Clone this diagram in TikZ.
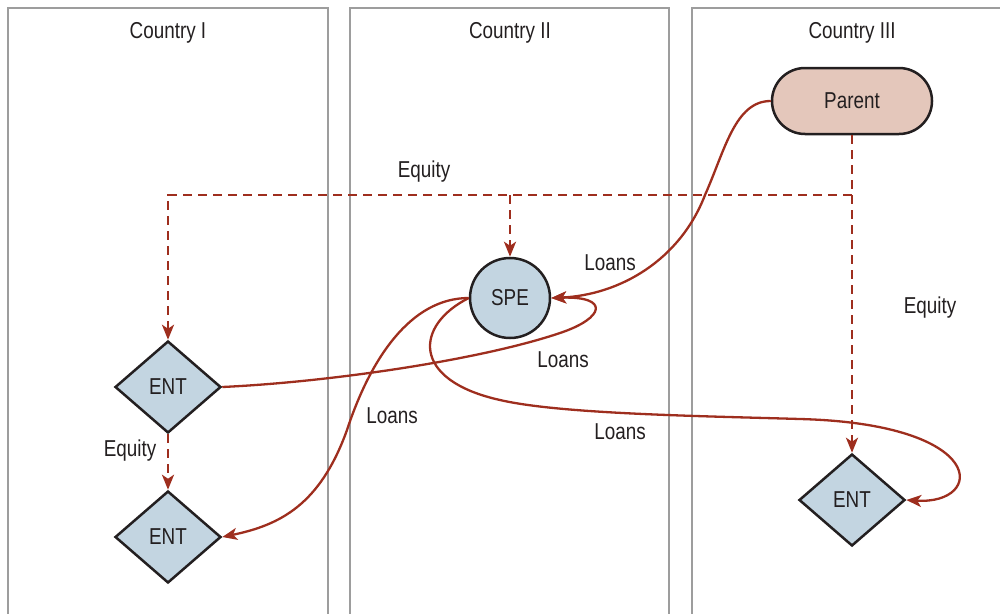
\documentclass[tikz,border=0pt]{standalone}
\usepackage{fontspec}
\setmainfont[FakeStretch=0.82]{Liberation Sans}
\usetikzlibrary{shapes.geometric,arrows.meta}
\definecolor{panelgray}{HTML}{9D9D9D}
\definecolor{inkdark}{HTML}{231F20}
\definecolor{flowred}{HTML}{9E2E1E}
\definecolor{entblue}{HTML}{C3D5E1}
\definecolor{parentpink}{HTML}{E4C7BB}
\tikzset{
  panel/.style={draw=panelgray, line width=2pt},
  lbl/.style={text=inkdark, font=\fontsize{23}{27}\selectfont, inner sep=0pt},
  entbox/.style={diamond, draw=inkdark, fill=entblue, line width=2.5pt,
    minimum width=106pt, minimum height=92pt, inner sep=0pt, aspect=1.15,
    text=inkdark, font=\fontsize{23}{27}\selectfont},
  spebox/.style={circle, draw=inkdark, fill=entblue, line width=2.5pt,
    minimum size=80pt, inner sep=0pt, text=inkdark, font=\fontsize{23}{27}\selectfont},
  parentbox/.style={rectangle, rounded corners=33pt, draw=inkdark, fill=parentpink,
    line width=2.5pt, minimum width=160pt, minimum height=66pt, inner sep=0pt,
    text=inkdark, font=\fontsize{23}{27}\selectfont},
  tipred/.style={-{Stealth[length=15pt,width=12pt,inset=4pt]}},
  equity/.style={draw=flowred, line width=2.6pt, dash pattern=on 9pt off 6pt},
  loan/.style={draw=flowred, line width=2.3pt},
}
\begin{document}
\begin{tikzpicture}[x=1pt,y=-1pt]
\useasboundingbox (0,0) rectangle (1000,613);

% country panels
\draw[panel] (8,614) -- (8,8) -- (328,8) -- (328,614);
\draw[panel] (350,614) -- (350,8) -- (669,8) -- (669,614);
\draw[panel] (692,614) -- (692,8) -- (1002,8);
\node[lbl] (t1) at (168,33) {Country I};
\node[lbl] (t2) at (510,33) {Country II};
\node[lbl] (t3) at (852,33) {Country III};

% entities
\node[parentbox] (parent) at (852,101) {Parent};
\node[spebox] (spe) at (510,298) {SPE};
\node[entbox] (ent1) at (168,387) {ENT};
\node[entbox] (ent2) at (168,537) {ENT};
\node[entbox] (ent3) at (852,500) {ENT};

% equity ownership (dashed)
\coordinate (jR) at (852,195);
\coordinate (jM) at (510,195);
\coordinate (jL) at (168,195);
\draw[equity,tipred] (parent.south) -- (jR) -- (jL) -- (ent1.north);
\draw[equity,tipred] (jM) -- (spe.north);
\draw[equity,tipred] (jR) -- (ent3.north);
\draw[equity,tipred] (ent1.south) -- (ent2.north);

% loans (solid)
\draw[loan,tipred] (parent.west) .. controls (735,101) and (725,150) .. (705,195)
  .. controls (680,260) and (620,295) .. (spe.east);
\draw[loan,tipred] (ent1.east) .. controls (330,382) and (480,360) .. (560,333)
  .. controls (605,318) and (610,296) .. (spe.east);
\draw[loan,tipred] (spe.west) .. controls (410,298) and (370,360) .. (347,430)
  .. controls (320,505) and (280,525) .. (ent2.east);
\draw[loan,tipred] (spe.west) .. controls (415,325) and (410,380) .. (500,400)
  .. controls (560,414) and (700,416) .. (800,419)
  .. controls (990,424) and (985,505) .. (ent3.east);

% labels
\node[lbl] (leq1) at (424,172) {Equity};
\node[lbl] (leq2) at (930,308) {Equity};
\node[lbl] (leq3) at (130,451) {Equity};
\node[lbl] (ll1) at (610,263) {Loans};
\node[lbl] (ll2) at (563,360) {Loans};
\node[lbl] (ll3) at (392,416) {Loans};
\node[lbl] (ll4) at (620,432) {Loans};
\end{tikzpicture}
\end{document}
